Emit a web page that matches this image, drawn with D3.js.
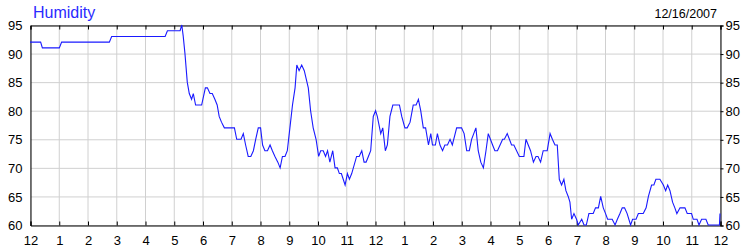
<!DOCTYPE html>
<html>
<head>
<meta charset="utf-8">
<script src="https://cdn.jsdelivr.net/npm/d3@7"></script>
<style>
  body { margin: 0; background: #fff; }
  svg { display: block; font-family: "Liberation Sans", Arial, sans-serif; }
</style>
</head>
<body>
<div id="root"></div>
<script>
// Hours since midnight (12/16/2007) and relative humidity readings
const hours = [
  0, 0.37, 0.43, 1.02, 1.1, 2.76, 2.84, 4.7, 4.78, 5.22,
  5.28, 5.33, 5.39, 5.47, 5.54, 5.62, 5.68, 5.76, 5.97, 6.1,
  6.17, 6.26, 6.34, 6.43, 6.51, 6.58, 6.66, 6.76, 7.11, 7.19,
  7.34, 7.42, 7.5, 7.59, 7.68, 7.77, 7.85, 7.94, 8.02, 8.09,
  8.17, 8.26, 8.35, 8.43, 8.52, 8.62, 8.7, 8.78, 8.87, 8.95,
  9.04, 9.13, 9.22, 9.28, 9.36, 9.45, 9.54, 9.68, 9.76, 9.85,
  9.95, 10.04, 10.11, 10.2, 10.28, 10.35, 10.43, 10.53, 10.61, 10.69,
  10.76, 10.83, 10.96, 11.04, 11.11, 11.19, 11.36, 11.45, 11.54, 11.62,
  11.69, 11.77, 11.85, 11.94, 12.02, 12.08, 12.2, 12.27, 12.36, 12.43,
  12.52, 12.62, 12.85, 12.93, 13.04, 13.12, 13.22, 13.33, 13.43, 13.51,
  13.59, 13.68, 13.76, 13.86, 13.94, 14.0, 14.1, 14.17, 14.26, 14.35,
  14.43, 14.52, 14.61, 14.69, 14.84, 15.01, 15.1, 15.19, 15.28, 15.36,
  15.51, 15.59, 15.68, 15.77, 15.86, 15.94, 16.09, 16.17, 16.26, 16.35,
  16.44, 16.5, 16.6, 16.75, 16.83, 17.02, 17.18, 17.25, 17.33, 17.41,
  17.51, 17.6, 17.67, 17.76, 17.85, 17.99, 18.09, 18.17, 18.26, 18.34,
  18.41, 18.49, 18.57, 18.64, 18.72, 18.78, 18.84, 18.92, 19.01, 19.07,
  19.19, 19.27, 19.35, 19.44, 19.59, 19.67, 19.77, 19.85, 19.94, 20.02,
  20.09, 20.25, 20.35, 20.43, 20.52, 20.6, 20.68, 20.77, 20.89, 20.96,
  21.08, 21.16, 21.33, 21.43, 21.51, 21.62, 21.7, 21.77, 21.91, 22.03,
  22.11, 22.18, 22.26, 22.35, 22.43, 22.5, 22.61, 22.78, 22.86, 23.01,
  23.07, 23.2, 23.27, 23.36, 23.51, 23.59, 23.98, 24.0
];
const humidity = [
  92, 92, 91, 91, 92, 92, 93, 93, 94, 94,
  95, 93, 90, 85, 83, 82, 83, 81, 81, 84,
  84, 83, 83, 82, 81, 79, 78, 77, 77, 75,
  75, 76, 74, 72, 72, 73, 75, 77, 77, 74,
  73, 73, 74, 73, 72, 71, 70, 72, 72, 73,
  77, 81, 84, 88, 87, 88, 87, 84, 80, 77,
  75, 72, 73, 73, 72, 73, 71, 73, 70, 70,
  69, 69, 67, 69, 68, 69, 72, 72, 73, 71,
  71, 72, 73, 79, 80, 79, 76, 77, 73, 74,
  79, 81, 81, 79, 77, 77, 78, 81, 81, 82,
  80, 77, 77, 74, 76, 74, 74, 76, 74, 73,
  74, 74, 75, 74, 77, 77, 76, 73, 73, 75,
  77, 73, 71, 70, 73, 76, 74, 73, 73, 74,
  75, 75, 76, 74, 74, 72, 72, 75, 74, 73,
  71, 72, 72, 71, 73, 73, 76, 75, 74, 74,
  68, 67, 68, 66, 65, 64, 61, 62, 61, 60,
  61, 60, 60, 62, 62, 63, 63, 65, 63, 62,
  61, 61, 60, 61, 62, 63, 63, 62, 60, 61,
  61, 62, 62, 63, 65, 67, 67, 68, 68, 67,
  66, 67, 66, 64, 63, 62, 63, 63, 62, 62,
  61, 61, 60, 61, 61, 60, 60, 62
];
const hourTicks = d3.range(0, 25);
const hourLabels = ['12', '1', '2', '3', '4', '5', '6', '7', '8', '9', '10', '11',
                    '12', '1', '2', '3', '4', '5', '6', '7', '8', '9', '10', '11', '12'];
const humidityTicks = [60, 65, 70, 75, 80, 85, 90, 95];
const title = 'Humidity';
const dateLabel = '12/16/2007';

const width = 750, height = 250;
const margin = {top: 25, right: 30, bottom: 25, left: 30};

const svg = d3.select('#root')
  .append('svg')
  .attr('width', width)
  .attr('height', height);

const x = d3.scaleLinear().domain([0, 24]).range([margin.left, width - margin.right]);
const y = d3.scaleLinear().domain([60, 95]).range([height - margin.bottom, margin.top]);

// Grid
svg.append('g')
  .selectAll('line')
  .data(hourTicks)
  .enter()
    .append('line')
    .attr('x1', d => x(d) + 0.5)
    .attr('x2', d => x(d) + 0.5)
    .attr('y1', y(95))
    .attr('y2', y(60))
    .attr('stroke', '#d0d0d0');

svg.append('g')
  .selectAll('line')
  .data(humidityTicks)
  .enter()
    .append('line')
    .attr('x1', x(0))
    .attr('x2', x(24))
    .attr('y1', d => y(d) + 0.5)
    .attr('y2', d => y(d) + 0.5)
    .attr('stroke', '#d0d0d0');

// Axes
const fontSize = '13px';

const bottomAxis = svg.append('g')
  .attr('transform', `translate(0.5,${y(60) + 0.5})`)
  .call(d3.axisBottom(x).tickValues(hourTicks).tickSize(-4).tickPadding(10)
    .tickFormat((d, i) => hourLabels[i]));

const topAxis = svg.append('g')
  .attr('transform', `translate(0.5,${y(95) + 0.5})`)
  .call(d3.axisTop(x).tickValues(hourTicks).tickSize(-4).tickFormat(''));

const leftAxis = svg.append('g')
  .attr('transform', `translate(${x(0) + 0.5},0.5)`)
  .call(d3.axisLeft(y).tickValues(humidityTicks).tickSize(0).tickPadding(8));

const rightAxis = svg.append('g')
  .attr('transform', `translate(${x(24) + 0.5},0.5)`)
  .call(d3.axisRight(y).tickValues(humidityTicks).tickSize(3).tickPadding(2));

[bottomAxis, topAxis, leftAxis, rightAxis].forEach(g => {
  g.select('.domain').attr('stroke', '#000');
  g.selectAll('.tick line').attr('stroke', '#000');
  g.selectAll('text')
    .attr('fill', '#000')
    .style('font-size', fontSize)
    .style('font-family', '"Liberation Sans", Arial, sans-serif');
});

// Data line
svg.append('path')
  .datum(hours.map((h, i) => [h, humidity[i]]))
  .attr('fill', 'none')
  .attr('stroke', '#1a1aff')
  .attr('stroke-width', 1.1)
  .attr('d', d3.line().x(d => x(d[0])).y(d => y(d[1])));

// Titles
svg.append('text')
  .attr('x', 33)
  .attr('y', 18)
  .attr('fill', '#2a2aff')
  .style('font-size', '16px')
  .text(title);

svg.append('text')
  .attr('x', 717)
  .attr('y', 18)
  .attr('text-anchor', 'end')
  .attr('fill', '#000')
  .style('font-size', '12.5px')
  .text(dateLabel);
</script>
</body>
</html>
